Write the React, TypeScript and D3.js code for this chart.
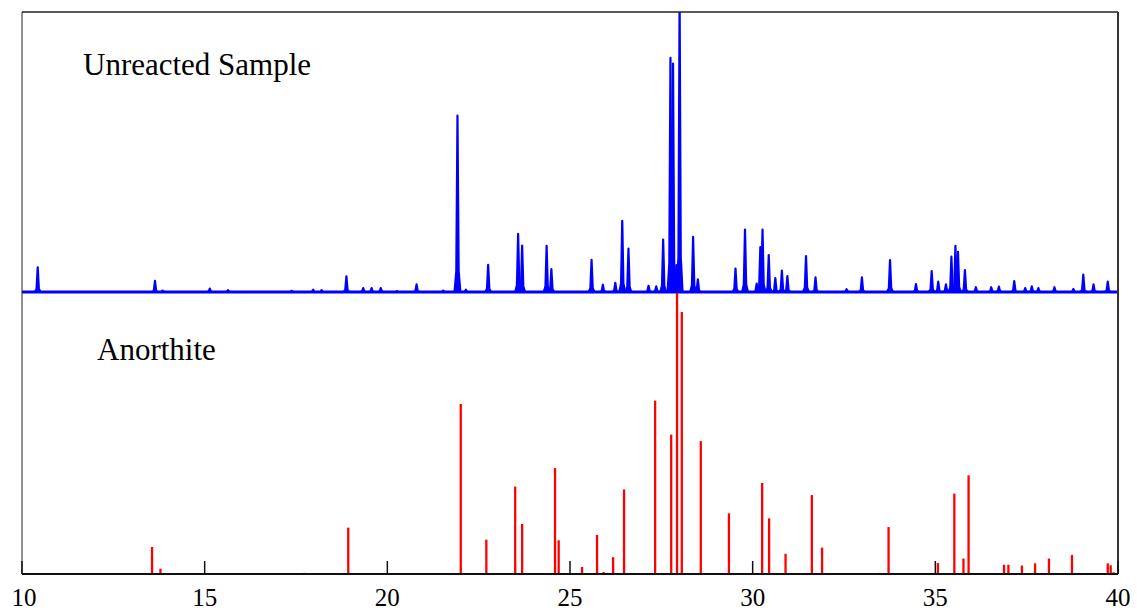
import React from "react";
import * as d3 from "d3";

// 2-theta range of the pattern
const xDomain: [number, number] = [10, 40];
const xTicks = [10, 15, 20, 25, 30, 35, 40];

// measured pattern of the unreacted sample: [2theta, relative intensity %]
const samplePeaks: [number, number][] = [
  [10.43, 8.8], [13.64, 4.0], [13.85, 0.5], [15.14, 1.2], [15.64, 0.7],
  [17.38, 0.4], [17.97, 0.8], [18.2, 0.7], [18.88, 5.6], [19.34, 1.4],
  [19.57, 1.4], [19.82, 1.4], [20.26, 0.3], [20.8, 2.7], [21.53, 0.5],
  [21.92, 63], [22.15, 0.8], [22.76, 9.7], [23.58, 20.8], [23.69, 16.6],
  [24.36, 16.5], [24.49, 8.2], [25.59, 11.5], [25.9, 2.6], [26.24, 3.3],
  [26.43, 25.4], [26.6, 15.5], [27.15, 2.2], [27.36, 2.0], [27.55, 18.7],
  [27.75, 83.6], [27.82, 81.6], [27.91, 9.6], [28.0, 105], [28.37, 19.7],
  [28.5, 4.5], [29.53, 8.4], [29.79, 22.3], [30.11, 3.0], [30.21, 16],
  [30.27, 22.3], [30.44, 13.2], [30.62, 5.0], [30.8, 7.6], [30.95, 5.7],
  [31.46, 12.8], [31.72, 5.2], [32.57, 1.0], [32.99, 5.2], [33.76, 11.4],
  [34.47, 2.8], [34.9, 7.5], [35.08, 3.7], [35.29, 2.7], [35.44, 12.6],
  [35.55, 16.5], [35.62, 14.3], [35.81, 7.8], [36.11, 1.7], [36.53, 1.7],
  [36.74, 1.9], [37.16, 3.9], [37.46, 1.4], [37.64, 2.0], [37.82, 1.4],
  [38.26, 1.7], [38.78, 1.1], [39.05, 6.2], [39.33, 2.7], [39.72, 3.7],
];

// reference lines for anorthite: [2theta, relative intensity %]
const anorthiteLines: [number, number][] = [
  [13.56, 9.6], [13.79, 1.9], [17.73, 0.4], [18.93, 16.5], [20.71, 0.3],
  [22.01, 60.5], [22.71, 12.2], [23.5, 31.1], [23.69, 17.8], [24.59, 37.7],
  [24.69, 12.0], [25.33, 2.5], [25.74, 13.9], [25.92, 0.7], [26.18, 6.0],
  [26.48, 30.1], [27.33, 61.7], [27.77, 49.6], [27.93, 100], [28.06, 93.2],
  [28.58, 47.3], [29.35, 21.6], [30.26, 32.4], [30.45, 19.8], [30.9, 7.2],
  [31.62, 28.1], [31.9, 9.4], [33.48, 0.4], [33.72, 16.7], [35.07, 3.9],
  [35.52, 28.6], [35.77, 5.5], [35.91, 35.1], [36.88, 3.3], [37.0, 3.3],
  [37.37, 3.0], [37.73, 3.8], [38.11, 5.5], [38.74, 6.8], [39.72, 3.8],
  [39.8, 3.1], [39.88, 0.6],
];

const W = 1137;
const H = 612;
const left = 22;
const right = 1118;
const top = 12;
const mid = 292;
const bottom = 574;

const font = "'Liberation Serif', 'Times New Roman', serif";

export default function App() {
  const x = d3.scaleLinear().domain(xDomain).range([left, right]);
  const yTop = d3.scaleLinear().domain([0, 100]).range([mid, top]);
  const yBot = d3.scaleLinear().domain([0, 100]).range([bottom, mid + 1]);

  // each peak is drawn as a narrow spike on the baseline
  const hw = 0.08;
  const spike = d3
    .line<[number, number]>()
    .x((d) => x(d[0]))
    .y((d) => yTop(d[1]));
  const peakPath = ([p, h]: [number, number]) =>
    spike([
      [p - hw, 0],
      [p - hw * 0.4, h * 0.12],
      [p, h],
      [p + hw * 0.4, h * 0.12],
      [p + hw, 0],
    ]) + "Z";

  return (
    <svg
      width={W}
      height={H}
      style={{ position: "absolute", left: 0, top: 0, background: "#fff" }}
    >
      <defs>
        <clipPath id="topPanel">
          <rect x={left} y={top} width={right - left} height={mid - top + 4} />
        </clipPath>
      </defs>

      {/* unreacted sample */}
      <g clipPath="url(#topPanel)">
        {samplePeaks.map((d, i) => (
          <path
            key={i}
            d={peakPath(d)}
            fill="#0000ff"
            stroke="#0000ff"
            strokeWidth={2.2}
            strokeLinejoin="round"
          />
        ))}
        <line
          x1={x(xDomain[0])}
          x2={x(xDomain[1])}
          y1={yTop(0)}
          y2={yTop(0)}
          stroke="#0000ff"
          strokeWidth={3}
        />
      </g>

      {/* anorthite sticks */}
      {anorthiteLines.map(([p, h], i) => (
        <line
          key={i}
          x1={x(p)}
          x2={x(p)}
          y1={yBot(0)}
          y2={yBot(h)}
          stroke="#ff0000"
          strokeWidth={2.3}
        />
      ))}

      {/* frame */}
      <line x1={left} x2={right} y1={top} y2={top} stroke="#222" strokeWidth={1.5} />
      <line x1={left} x2={left} y1={top} y2={bottom} stroke="#222" strokeWidth={1} />
      <line x1={right} x2={right} y1={top} y2={bottom} stroke="#333" strokeWidth={2} />
      <line x1={left} x2={right} y1={bottom} y2={bottom} stroke="#111" strokeWidth={2} />

      {/* x axis */}
      {xTicks.map((t) => (
        <g key={t}>
          <line
            x1={x(t)}
            x2={x(t)}
            y1={bottom}
            y2={bottom - 13}
            stroke="#111"
            strokeWidth={1.5}
          />
          <text
            x={x(t) + (t === 10 ? 2 : 0)}
            y={606}
            textAnchor="middle"
            fontFamily={font}
            fontSize={25}
            fill="#000"
          >
            {t}
          </text>
        </g>
      ))}

      <text x={83} y={75} fontFamily={font} fontSize={31} fill="#000">
        Unreacted Sample
      </text>
      <text x={97} y={360} fontFamily={font} fontSize={31} fill="#000">
        Anorthite
      </text>
    </svg>
  );
}
